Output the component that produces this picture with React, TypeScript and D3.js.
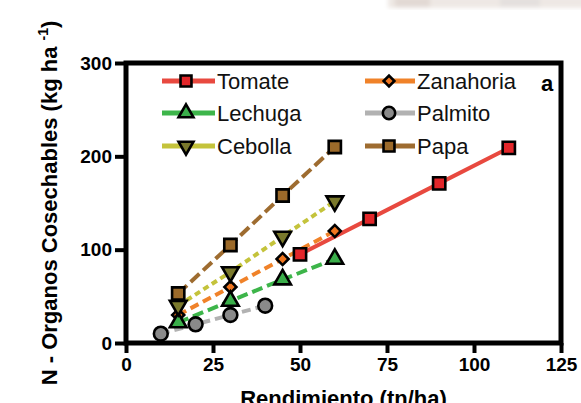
import React, { useRef, useEffect } from "react";
import * as d3 from "d3";

// rendimiento (tn/ha)
const xTomate = [50, 70, 90, 110];
const yTomate = [95, 133, 171, 209];
const xHort = [15, 30, 45, 60];
const yZanahoria = [30, 60, 90, 120];
const yLechuga = [22, 45, 68, 90];
const yCebolla = [40, 76, 114, 152];
const yPapa = [53, 105, 158, 210];
const xPalmito = [10, 20, 30, 40];
const yPalmito = [10, 20, 30, 40];

const xTicks = [0, 25, 50, 75, 100, 125];
const yTicks = [0, 100, 200, 300];

type Serie = {
  name: string;
  xs: number[];
  ys: number[];
  line: string;
  fill: string;
  symbol: d3.SymbolType;
  size: number;
  dash: string;
  rot?: number;
};

const series: Serie[] = [
  { name: "Tomate", xs: xTomate, ys: yTomate, line: "#e8493f", fill: "#e3262a", symbol: d3.symbolSquare, size: 150, dash: "" },
  { name: "Zanahoria", xs: xHort, ys: yZanahoria, line: "#f08229", fill: "#f07620", symbol: d3.symbolSquare, size: 72, dash: "9,5", rot: 45 },
  { name: "Lechuga", xs: xHort, ys: yLechuga, line: "#3db54a", fill: "#3aae4a", symbol: d3.symbolTriangle, size: 120, dash: "11,5" },
  { name: "Palmito", xs: xPalmito, ys: yPalmito, line: "#b2b2b2", fill: "#8a8a8a", symbol: d3.symbolCircle, size: 150, dash: "9,5" },
  { name: "Cebolla", xs: xHort, ys: yCebolla, line: "#c4c33b", fill: "#7a792c", symbol: d3.symbolTriangle, size: 120, dash: "6,4", rot: 180 },
  { name: "Papa", xs: xHort, ys: yPapa, line: "#9e6c30", fill: "#9c6a2a", symbol: d3.symbolSquare, size: 150, dash: "12,5" },
];

const Chart = () => {
  const svgRef = useRef<SVGSVGElement>(null);

  useEffect(() => {
    const svg = d3.select(svgRef.current);
    svg.selectAll("*").remove();

    const width = 581;
    const height = 403;
    svg.attr("width", width).attr("height", height);

    const left = 126;
    const right = 561;
    const top = 63;
    const bottom = 343;

    const x = d3.scaleLinear().domain([0, 125]).range([left, right]);
    const y = d3.scaleLinear().domain([0, 300]).range([bottom, top]);

    // mancha gris arriba a la derecha
    const defs = svg.append("defs");
    defs.append("filter").attr("id", "blur").append("feGaussianBlur").attr("stdDeviation", 2);
    const smudge = svg.append("g").attr("filter", "url(#blur)");
    smudge.append("rect").attr("x", 388).attr("y", -4).attr("width", 200).attr("height", 12).attr("fill", "#eee8e4");
    smudge.append("rect").attr("x", 395).attr("y", -4).attr("width", 35).attr("height", 11).attr("fill", "#e2d9d4");
    smudge.append("rect").attr("x", 500).attr("y", -4).attr("width", 40).attr("height", 11).attr("fill", "#e4e0de");

    // lineas
    const line = d3
      .line<[number, number]>()
      .x((d) => x(d[0]))
      .y((d) => y(d[1]));

    series.forEach((s) => {
      svg
        .append("path")
        .datum(s.xs.map((v, i) => [v, s.ys[i]] as [number, number]))
        .attr("d", line)
        .attr("fill", "none")
        .attr("stroke", s.line)
        .attr("stroke-width", 4)
        .attr("stroke-dasharray", s.dash || null);
    });

    // marcadores
    series.forEach((s) => {
      svg
        .append("g")
        .selectAll("path")
        .data(s.xs.map((v, i) => [v, s.ys[i]]))
        .enter()
        .append("path")
        .attr("d", d3.symbol().type(s.symbol).size(s.size)())
        .attr("transform", (d) => `translate(${x(d[0])},${y(d[1])}) rotate(${s.rot || 0})`)
        .attr("fill", s.fill)
        .attr("stroke", "#000")
        .attr("stroke-width", 2.6);
    });

    // marco
    svg
      .append("rect")
      .attr("x", left)
      .attr("y", top)
      .attr("width", right - left)
      .attr("height", bottom - top)
      .attr("fill", "none")
      .attr("stroke", "#000")
      .attr("stroke-width", 5);

    // ejes
    const xAxis = d3.axisBottom(x).tickValues(xTicks).tickSize(10).tickPadding(5);
    const gx = svg.append("g").attr("transform", `translate(0, ${bottom})`).call(xAxis);
    gx.select(".domain").remove();
    gx.selectAll("line").attr("stroke", "#000").attr("stroke-width", 4);
    gx.selectAll("text")
      .attr("font-family", "Liberation Sans, Arial, sans-serif")
      .attr("font-size", 19)
      .attr("font-weight", "bold")
      .attr("fill", "#000");

    const yAxis = d3.axisLeft(y).tickValues(yTicks).tickSize(11).tickPadding(3);
    const gy = svg.append("g").attr("transform", `translate(${left}, 0)`).call(yAxis);
    gy.select(".domain").remove();
    gy.selectAll("line").attr("stroke", "#000").attr("stroke-width", 4);
    gy.selectAll("text")
      .attr("font-family", "Liberation Sans, Arial, sans-serif")
      .attr("font-size", 19)
      .attr("font-weight", "bold")
      .attr("fill", "#000");

    // titulos
    svg
      .append("text")
      .attr("x", (left + right) / 2)
      .attr("y", 406)
      .attr("text-anchor", "middle")
      .attr("font-family", "Liberation Sans, Arial, sans-serif")
      .attr("font-size", 22)
      .attr("font-weight", "bold")
      .text("Rendimiento (tn/ha)");

    const yt = svg
      .append("text")
      .attr("transform", `translate(57, ${(top + bottom) / 2}) rotate(-90)`)
      .attr("text-anchor", "middle")
      .attr("font-family", "Liberation Sans, Arial, sans-serif")
      .attr("font-size", 22)
      .attr("font-weight", "bold");
    yt.append("tspan").text("N - Organos Cosechables (kg ha ");
    yt.append("tspan").attr("font-size", 14).attr("dy", -9).text("-1");
    yt.append("tspan").attr("dy", 9).text(")");

    // leyenda
    const cols = [
      { x0: 162, x1: 215, mx: 186, tx: 217 },
      { x0: 365, x1: 415, mx: 389, tx: 417 },
    ];
    const rows = [81, 113, 146];
    series.forEach((s, i) => {
      const c = cols[i % 2];
      const ry = rows[Math.floor(i / 2)];
      const g = svg.append("g");
      g.append("line")
        .attr("x1", c.x0)
        .attr("x2", c.x1)
        .attr("y1", ry)
        .attr("y2", ry)
        .attr("stroke", s.line)
        .attr("stroke-width", 5);
      g.append("path")
        .attr("d", d3.symbol().type(s.symbol).size(s.size * 0.8)())
        .attr("transform", `translate(${c.mx},${ry}) rotate(${s.rot || 0})`)
        .attr("fill", s.fill)
        .attr("stroke", "#000")
        .attr("stroke-width", 2.6);
      g.append("text")
        .attr("x", c.tx)
        .attr("y", ry + 8)
        .attr("font-family", "Liberation Sans, Arial, sans-serif")
        .attr("font-size", 22)
        .attr("fill", "#111")
        .text(s.name);
    });

    svg
      .append("text")
      .attr("x", 541)
      .attr("y", 91)
      .attr("font-family", "Liberation Sans, Arial, sans-serif")
      .attr("font-size", 22)
      .attr("font-weight", "bold")
      .text("a");
  }, []);

  return <svg ref={svgRef} style={{ position: "absolute", left: 0, top: 0 }} />;
};

export default function App() {
  return <Chart />;
}
